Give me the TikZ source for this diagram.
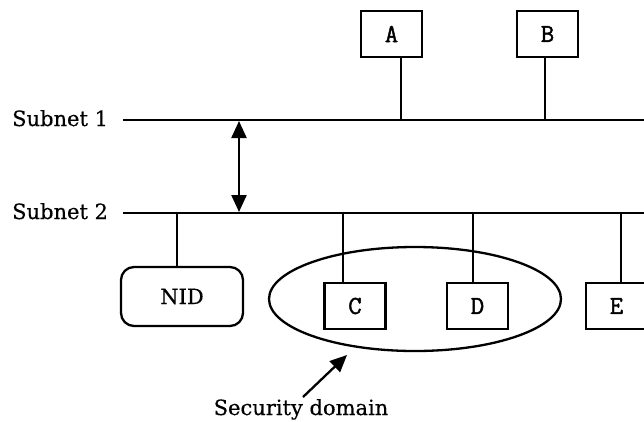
\documentclass[tikz,border=0pt]{standalone}
\usepackage{fontspec}
\setmainfont{DejaVu Serif}[FakeBold=0.4]
\newfontfamily\boxfont{Latin Modern Mono}[FakeBold=1.6]
\usetikzlibrary{arrows.meta,shapes.geometric}
\tikzset{
  wire/.style={line width=2.3pt},
  arr/.style={line width=2.3pt,-{Triangle[length=17pt,width=15pt]}},
  darr/.style={line width=2.3pt,{Triangle[length=17pt,width=15pt]}-{Triangle[length=17pt,width=15pt]}},
  host/.style={draw,line width=2.3pt,minimum width=61pt,minimum height=46pt,inner sep=0pt,font=\boxfont\fontsize{26}{26}\selectfont},
  nidbox/.style={draw,line width=2.3pt,rounded corners=13pt,minimum width=122pt,minimum height=59pt,inner sep=0pt,font=\fontsize{21}{21}\selectfont},
  lbl/.style={inner sep=0pt,font=\fontsize{21}{21}\selectfont},
  secdom/.style={draw,ellipse,line width=2.3pt,minimum width=292pt,minimum height=104pt,inner sep=0pt}
}
\begin{document}
\begin{tikzpicture}[x=1pt,y=-1pt]
\clip (0,0) rectangle (644,421);
% subnet lines
\coordinate (s1a) at (123,120); \coordinate (s1b) at (650,120);
\coordinate (s2a) at (123,213); \coordinate (s2b) at (650,213);
\draw[wire] (s1a) -- (s1b);
\draw[wire] (s2a) -- (s2b);
\node[lbl,anchor=base west] (sub1) at (12,126) {Subnet 1};
\node[lbl,anchor=base west] (sub2) at (12,219) {Subnet 2};
% double arrow
\coordinate (u1) at (239,121); \coordinate (u2) at (239,212);
\draw[darr] (u1) -- (u2);
% domain ellipse
\node[secdom] (dom) at (415,299) {};
% hosts
\node[host] (A) at (391.5,34) {A};
\node[host] (B) at (547.5,34) {B};
\node[host] (C) at (355,306) {C};
\node[host] (D) at (477.5,306) {D};
\node[host] (E) at (616.5,306) {E};
\node[nidbox] (NID) at (182,296.5) {NID};
% stems
\coordinate (ta) at (401,120); \coordinate (tb) at (545,120);
\coordinate (tn) at (177,213); \coordinate (tc) at (343,213);
\coordinate (td) at (473,213); \coordinate (te) at (621,213);
\draw[wire] (ta) -- (ta |- A.south);
\draw[wire] (tb) -- (tb |- B.south);
\draw[wire] (tn) -- (tn |- NID.north);
\draw[wire] (tc) -- (tc |- C.north);
\draw[wire] (td) -- (td |- D.north);
\draw[wire] (te) -- (te |- E.north);
% security domain label
\node[lbl,anchor=base] (sec) at (301,415) {Security domain};
\coordinate (tail) at (303,397); \coordinate (tip) at (347,355);
\draw[arr] (tail) -- (tip);
\end{tikzpicture}
\end{document}
